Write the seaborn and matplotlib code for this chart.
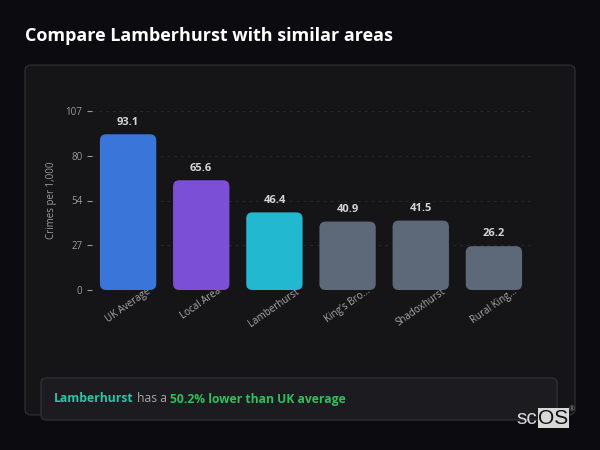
import matplotlib
matplotlib.use("Agg")
import matplotlib.pyplot as plt
import seaborn as sns
import pandas as pd
import numpy as np
from matplotlib.patches import FancyBboxPatch

categories = ["UK Average", "Local Area", "Lamberhurst", "King's Bro...", "Shadoxhurst", "Rural King..."]
values = [93.1, 65.6, 46.4, 40.9, 41.5, 26.2]
bar_colors = ["#3a76da", "#7b50d6", "#22b8d0", "#5d6878", "#5d6878", "#5d6878"]
y_max = 107
y_ticks = [0, 26.75, 53.5, 80.25, 107]
title = "Compare Lamberhurst with similar areas"
y_label = "Crimes per 1,000"

sns.set_theme(style="dark")
plt.rcParams['font.family'] = ['Open Sans', 'DejaVu Sans']

BG = "#0c0c10"
CARD = "#151518"
fig = plt.figure(figsize=(6, 4.5), dpi=100, facecolor=BG)

# card
card = FancyBboxPatch((25 / 600, (450 - 415) / 450), 550 / 600, (415 - 65) / 450,
                      boxstyle="round,pad=0,rounding_size=0.012",
                      transform=fig.transFigure, facecolor=CARD, edgecolor="#2a2a30",
                      linewidth=1, zorder=-2)
fig.patches.append(card)

fig.text(25 / 600, 1 - 36 / 450, title, color="white", fontsize=13, fontweight="bold",
         ha="left", va="center")

ax = fig.add_axes([91.5 / 600, (450 - 290) / 450, 439 / 600, 179 / 450])
ax.set_zorder(2)
ax.set_facecolor("none")
df = pd.DataFrame({"area": categories, "value": values})
sns.barplot(data=df, x="area", y="value", hue="area", palette=bar_colors, legend=False,
            ax=ax, width=0.77, saturation=1)

# replace bars with rounded ones
px_x = 439 / 6.0
px_y = 179 / y_max
aspect = px_x / px_y
for p in list(ax.patches):
    x, y = p.get_x(), p.get_y()
    w, h = p.get_width(), p.get_height()
    fc = p.get_facecolor()
    p.remove()
    fb = FancyBboxPatch((x, y), w, h, boxstyle="round,pad=0,rounding_size=0.085",
                        mutation_aspect=aspect, facecolor=fc, edgecolor="none", zorder=3)
    ax.add_patch(fb)

for i, v in enumerate(values):
    ax.text(i, v + 4, f"{v:.1f}", ha="center", va="bottom", color="#d4d4d4",
            fontsize=8, fontweight="bold", zorder=4)

ax.set_xlim(-0.5, 5.5)
ax.set_ylim(0, y_max)
ax.set_yticks(y_ticks)
ax.set_yticklabels([f"{t:.0f}" for t in y_ticks])
ax.yaxis.grid(True, color="#26262b", linestyle=(0, (3, 4)), linewidth=0.7)
ax.xaxis.grid(False)
ax.set_axisbelow(True)
for s in ax.spines.values():
    s.set_visible(False)
ax.tick_params(axis="y", colors="#9a9a9a", labelsize=7, length=3.5, width=0.8,
               direction="out", left=True, pad=3)
ax.tick_params(axis="x", colors="#9a9a9a", labelsize=7, length=0, pad=-3)
for lab in ax.get_xticklabels():
    lab.set_rotation(35)
    lab.set_ha("center")
    lab.set_color("#a8a8a8")
ax.set_xlabel("")
ax.set_ylabel(y_label, color="#9a9a9a", fontsize=7, labelpad=6)

# annotation box
box = FancyBboxPatch((41 / 600, (450 - 420) / 450), 516 / 600, 42 / 450,
                     boxstyle="round,pad=0,rounding_size=0.01",
                     transform=fig.transFigure, facecolor="#1c1c20", edgecolor="#2e2e34",
                     linewidth=1, zorder=-1)
fig.patches.append(box)

ty = 1 - 399 / 450
t1 = fig.text(54 / 600, ty, "Lamberhurst", color="#2ec4a6", fontsize=8.7, fontweight="bold",
              ha="left", va="center")
fig.canvas.draw()
r = fig.canvas.get_renderer()
bb = t1.get_window_extent(r)
t2 = fig.text(bb.x1 / 600, ty, " has a ", color="#a8a8a8", fontsize=8.7, ha="left", va="center")
bb2 = t2.get_window_extent(r)
fig.text(bb2.x1 / 600, ty, "50.2% lower than UK average", color="#2fbf5e", fontsize=8.7,
         fontweight="bold", ha="left", va="center")

# logo
ly = 1 - 418 / 450
s1 = fig.text(516 / 600, ly, "sc", color="#d8d8d8", fontsize=15,
              family=["Liberation Sans", "DejaVu Sans"], ha="left", va="center")
bs = s1.get_window_extent(r)
o = fig.text(bs.x1 / 600 + 0.002, ly, "OS", color="#111111", fontsize=15,
             family=["Liberation Sans", "DejaVu Sans"], ha="left", va="center",
             bbox=dict(boxstyle="square,pad=0.02", facecolor="#d8d8d8", edgecolor="none"))
bo = o.get_window_extent(r)
fig.text(bo.x1 / 600 + 0.006, 1 - 410 / 450, "®", color="#999999", fontsize=5,
         ha="center", va="center", zorder=10)

fig.savefig("out.png", dpi=100, facecolor=BG)
